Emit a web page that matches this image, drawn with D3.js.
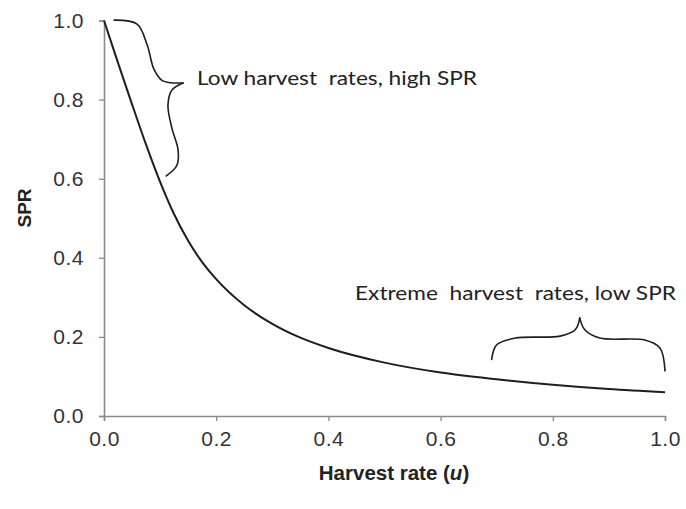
<!DOCTYPE html>
<html>
<head>
<meta charset="utf-8">
<script src="https://cdn.jsdelivr.net/npm/d3@7"></script>
<style>
  html, body { margin: 0; padding: 0; background: #fff; }
  svg { display: block; }
</style>
</head>
<body>
<script>
// ---- data ----
const harvestRate = [0, 0.025, 0.05, 0.075, 0.1, 0.125, 0.15, 0.175, 0.2, 0.25, 0.3, 0.35, 0.4, 0.5, 0.6, 0.7, 0.8, 0.9, 1.0];
const sprValues   = [1.0, 0.893, 0.788, 0.686, 0.592, 0.51, 0.443, 0.389, 0.346, 0.28, 0.233, 0.198, 0.172, 0.135, 0.11, 0.093, 0.079, 0.068, 0.06];
const xTicks = [0, 0.2, 0.4, 0.6, 0.8, 1.0];
const yTicks = [0, 0.2, 0.4, 0.6, 0.8, 1.0];
const xTitle = "Harvest rate (";
const xTitleItalic = "u";
const yTitle = "SPR";
const noteLow = "Low harvest  rates, high SPR";
const noteHigh = "Extreme  harvest  rates, low SPR";
// brace outlines in data units (u, SPR): one half then the other, meeting at the tip
const braceLowA = [[0.018, 1.001], [0.059, 0.991], [0.077, 0.938], [0.089, 0.877], [0.104, 0.848], [0.141, 0.842]];
const braceLowB = [[0.141, 0.842], [0.121, 0.824], [0.114, 0.786], [0.121, 0.728], [0.132, 0.673], [0.130, 0.634], [0.111, 0.607]];
const braceHighA = [[0.691, 0.143], [0.700, 0.180], [0.733, 0.197], [0.813, 0.202], [0.840, 0.218], [0.848, 0.248]];
const braceHighB = [[0.848, 0.248], [0.857, 0.218], [0.884, 0.197], [0.964, 0.192], [0.991, 0.172], [1.0, 0.114]];

// ---- layout ----
const W = 686, H = 509;
const svg = d3.select("body").append("svg").attr("width", W).attr("height", H);

const x = d3.scaleLinear().domain([0, 1]).range([104, 665]);
const y = d3.scaleLinear().domain([0, 1]).range([416, 20.5]);

const axisColor = "#8a8a8a";
const tickFont = "'Liberation Sans', Arial, sans-serif";

// x axis
const gx = svg.append("g").attr("transform", `translate(0,${y(0)})`)
  .call(d3.axisBottom(x).tickValues(xTicks).tickFormat(d3.format(".1f")).tickSizeOuter(0).tickSize(5).tickPadding(10));
gx.select(".domain").attr("stroke", axisColor).attr("stroke-width", 1.6);
gx.selectAll(".tick line").attr("stroke", axisColor).attr("stroke-width", 1.3);
gx.selectAll(".tick text").attr("font-family", tickFont).attr("font-size", 21).attr("fill", "#333")
  .attr("dy", "0.72em").attr("letter-spacing", "0.5px");

// y axis
const gy = svg.append("g").attr("transform", `translate(${x(0)},0)`)
  .call(d3.axisLeft(y).tickValues(yTicks).tickFormat(d3.format(".1f")).tickSizeOuter(0).tickSize(5).tickPadding(15));
gy.select(".domain").attr("stroke", axisColor).attr("stroke-width", 1.6);
gy.selectAll(".tick line").attr("stroke", axisColor).attr("stroke-width", 1.3);
gy.selectAll(".tick text").attr("font-family", tickFont).attr("font-size", 21).attr("fill", "#333")
  .attr("letter-spacing", "0.5px");

// axis titles
const xt = svg.append("text").attr("x", 394).attr("y", 480).attr("text-anchor", "middle")
  .attr("font-family", tickFont).attr("font-size", 20.5).attr("font-weight", "bold").attr("fill", "#222");
xt.append("tspan").text(xTitle);
xt.append("tspan").attr("font-style", "italic").text(xTitleItalic);
xt.append("tspan").text(")");

svg.append("text").attr("transform", "translate(31,208) rotate(-90)").attr("text-anchor", "middle")
  .attr("font-family", tickFont).attr("font-size", 19).attr("font-weight", "bold").attr("fill", "#222")
  .text(yTitle);

// curve
const pts = harvestRate.map((u, i) => [u, sprValues[i]]);
svg.append("path").datum(pts)
  .attr("fill", "none").attr("stroke", "#1e1e1e").attr("stroke-width", 2)
  .attr("d", d3.line().x(d => x(d[0])).y(d => y(d[1])).curve(d3.curveMonotoneX));

// braces
const braceLine = d3.line().x(d => x(d[0])).y(d => y(d[1])).curve(d3.curveCatmullRom.alpha(0.5));
[braceLowA, braceLowB, braceHighA, braceHighB].forEach(b => {
  svg.append("path").datum(b).attr("fill", "none").attr("stroke", "#1e1e1e")
    .attr("stroke-width", 1.6).attr("stroke-linecap", "round").attr("d", braceLine);
});

// annotation text
const noteFont = "Lato, 'Open Sans', sans-serif";
svg.append("text").attr("x", 197).attr("y", 85).attr("font-family", noteFont).attr("font-size", 19.5)
  .attr("fill", "#222").attr("textLength", 280).attr("lengthAdjust", "spacingAndGlyphs")
  .style("white-space", "pre").text(noteLow);
svg.append("text").attr("x", 355).attr("y", 300).attr("font-family", noteFont).attr("font-size", 19.5)
  .attr("fill", "#222").attr("textLength", 321).attr("lengthAdjust", "spacingAndGlyphs")
  .style("white-space", "pre").text(noteHigh);
</script>
</body>
</html>
